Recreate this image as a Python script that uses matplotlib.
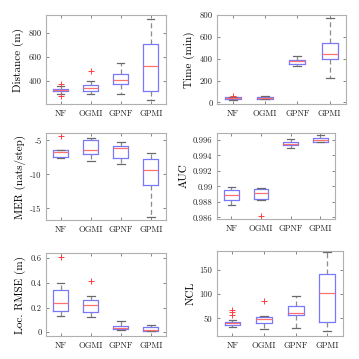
import numpy as np
import matplotlib
matplotlib.use("Agg")
import matplotlib.pyplot as plt

plt.rcParams['font.family'] = 'cmr10'
plt.rcParams['axes.formatter.use_mathtext'] = True
plt.rcParams['mathtext.fontset'] = 'cm'

methods = ['NF', 'OGMI', 'GPNF', 'GPMI']

# --- box statistics (q1, median, q3, low whisker, high whisker, outliers)
dist_q1 = [319, 319, 375, 314]
dist_med = [328, 347, 406, 525]
dist_q3 = [335, 369, 456, 708]
dist_lo = [294, 292, 292, 244]
dist_hi = [361, 403, 547, 917]
dist_out = [[378, 280], [486], [], []]

time_q1 = [30, 35, 348, 393]
time_med = [36, 43, 378, 443]
time_q3 = [45, 50, 390, 545]
time_lo = [20, 28, 330, 220]
time_hi = [50, 57, 420, 770]
time_out = [[60], [], [], []]

mer_q1 = [-7.43, -6.99, -7.52, -11.6]
mer_med = [-6.75, -6.36, -6.17, -9.37]
mer_q3 = [-6.41, -5.0, -5.87, -7.77]
mer_lo = [-7.62, -8.01, -8.4, -16.2]
mer_hi = [-6.41, -4.66, -5.29, -6.8]
mer_out = [[-4.27], [], [], []]

auc_q1 = [0.98830, 0.98843, 0.99532, 0.99574]
auc_med = [0.98891, 0.98913, 0.99549, 0.99600]
auc_q3 = [0.98957, 0.98966, 0.99570, 0.99621]
auc_lo = [0.98766, 0.98830, 0.99494, 0.99574]
auc_hi = [0.98996, 0.98983, 0.99617, 0.99664]
auc_out = [[], [0.98621], [], []]

rmse_q1 = [0.1725, 0.1675, 0.0225, 0.0075]
rmse_med = [0.235, 0.22, 0.0375, 0.0175]
rmse_q3 = [0.3425, 0.2625, 0.05, 0.0425]
rmse_lo = [0.1275, 0.12, 0.0175, 0.0075]
rmse_hi = [0.395, 0.2925, 0.095, 0.0575]
rmse_out = [[0.6075], [0.415], [], []]

ncl_q1 = [36.6, 41.3, 57.4, 42.6]
ncl_med = [40, 48, 61.4, 101.7]
ncl_q3 = [43.3, 53.4, 75.5, 140]
ncl_lo = [33, 27.9, 31.2, 23.3]
ncl_hi = [46, 55.4, 95.6, 185.6]
ncl_out = [[67, 63, 58], [85], [], []]


def make_stats(q1, med, q3, lo, hi, out):
    stats = []
    for i in range(len(methods)):
        stats.append(dict(q1=q1[i], med=med[i], q3=q3[i], whislo=lo[i],
                          whishi=hi[i], fliers=np.array(out[i]), label=methods[i]))
    return stats


panels = [
    ('Distance (m)', make_stats(dist_q1, dist_med, dist_q3, dist_lo, dist_hi, dist_out),
     (210, 950), [400, 600, 800], ['400', '600', '800'], (45.7, 15, 165.7, 104)),
    ('Time (min)', make_stats(time_q1, time_med, time_q3, time_lo, time_hi, time_out),
     (-15, 800), [0, 200, 400, 600, 800], ['0', '200', '400', '600', '800'], (216.7, 15, 345.7, 104)),
    ('MER (nats/step)', make_stats(mer_q1, mer_med, mer_q3, mer_lo, mer_hi, mer_out),
     (-16.7, -3.9), [-15, -10, -5], ['-15', '-10', '-5'], (45.7, 133, 166, 220)),
    ('AUC', make_stats(auc_q1, auc_med, auc_q3, auc_lo, auc_hi, auc_out),
     (0.9858, 0.9969), [0.986, 0.988, 0.99, 0.992, 0.994, 0.996],
     ['0.986', '0.988', '0.99', '0.992', '0.994', '0.996'], (216.7, 133, 335, 219)),
    ('Loc. RMSE (m)', make_stats(rmse_q1, rmse_med, rmse_q3, rmse_lo, rmse_hi, rmse_out),
     (-0.03, 0.64), [0, 0.2, 0.4, 0.6], ['0', '0.2', '0.4', '0.6'], (45.7, 253, 166, 336)),
    ('NCL', make_stats(ncl_q1, ncl_med, ncl_q3, ncl_lo, ncl_hi, ncl_out),
     (14, 188), [50, 100, 150], ['50', '100', '150'], (216.7, 251, 343, 336)),
]

W = H = 359
fig = plt.figure(figsize=(3.59, 3.59), dpi=100)

for ylabel, stats, ylim, yt, ytl, (x0, y0, x1, y1) in panels:
    ax = fig.add_axes([x0 / W, 1 - y1 / H, (x1 - x0) / W, (y1 - y0) / H])
    ax.bxp(stats, widths=0.5, showfliers=True,
           boxprops=dict(color='#7878ff', linewidth=0.9),
           medianprops=dict(color='#ff7070', linewidth=0.9),
           whiskerprops=dict(color='#8c8c8c', linewidth=0.9, linestyle=(0, (4, 2.5))),
           capprops=dict(color='#6a6a6a', linewidth=0.9),
           flierprops=dict(marker='+', markeredgecolor='#ff4040', markersize=4, markeredgewidth=0.7))
    ax.set_ylim(ylim)
    ax.set_xlim(0.5, 4.5)
    ax.set_yticks(yt)
    ax.set_yticklabels(ytl)
    ax.set_ylabel(ylabel, fontsize=8, labelpad=3)
    ax.tick_params(direction='in', length=2, width=0.5, colors='#555555',
                   labelcolor='#222222', labelsize=6.2, top=True, right=True, pad=3)
    ax.tick_params(axis='x', length=2, pad=4)
    for s in ax.spines.values():
        s.set_color('#b0b0b0')
        s.set_linewidth(0.8)

fig.savefig('out.png', dpi=100)
